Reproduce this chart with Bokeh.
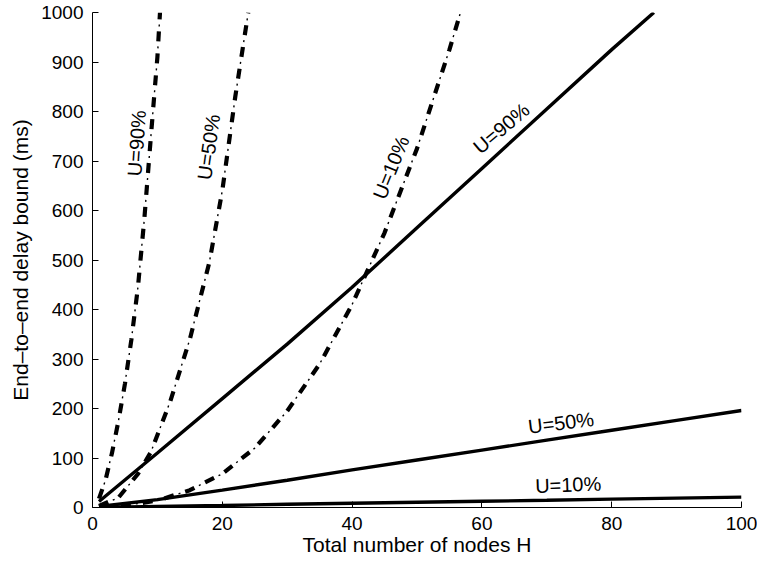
from bokeh.plotting import figure
from bokeh.models import Range1d, FixedTicker, Label
from bokeh.embed import file_html
from bokeh.resources import INLINE

# ---- data ----
x_ticks = [0, 20, 40, 60, 80, 100]
y_ticks = [0, 100, 200, 300, 400, 500, 600, 700, 800, 900, 1000]

# solid lines
h_solid90 = [1, 10, 20, 30, 40, 50, 60, 70, 80, 86.5]
d_solid90 = [12, 110, 220, 330, 445, 565, 685, 805, 925, 1000]
h_solid50 = [1, 10, 20, 30, 40, 50, 60, 70, 80, 90, 100]
d_solid50 = [2, 16, 35, 55, 76, 96, 116, 136, 156, 176, 196]
h_solid10 = [1, 10, 20, 30, 40, 50, 60, 70, 80, 90, 100]
d_solid10 = [0.2, 2, 4, 6.5, 8.5, 10.5, 12.5, 14.5, 17, 19, 21]

# dash-dot curves
h_dd90 = [1, 2, 3, 4, 5, 6, 7, 8, 9, 10, 10.4]
d_dd90 = [18, 55, 110, 175, 250, 340, 445, 585, 750, 910, 1000]
h_dd50 = [1, 4, 7, 9, 12, 15, 18, 20, 22, 24]
d_dd50 = [3, 20, 68, 112, 215, 340, 495, 640, 830, 1000]
h_dd10 = [1, 5, 10, 15, 20, 25, 30, 35, 40, 45, 50, 55, 56.7]
d_dd10 = [1, 4, 14, 35, 68, 120, 195, 290, 410, 555, 725, 925, 1000]

labels_text = ["U=90%", "U=50%", "U=10%", "U=90%", "U=50%", "U=10%"]
labels_x = [6.8, 17.9, 46.0, 63.0, 72.2, 73.3]
labels_y = [736, 728, 687, 766, 171, 46]
labels_angle = [86, 82, 68, 40, 7, 2]

FONT = "Liberation Sans"

p = figure(width=757, height=558, output_backend="svg", toolbar_location=None,
           x_range=Range1d(0, 100), y_range=Range1d(0, 1000),
           min_border_left=92, min_border_right=16, min_border_top=12, min_border_bottom=50)
p.outline_line_color = None
p.grid.visible = False
p.background_fill_color = "white"
p.border_fill_color = "white"

for ax in (p.xaxis[0], p.yaxis[0]):
    ax.major_tick_in = 6
    ax.major_tick_out = 0
    ax.minor_tick_in = 0
    ax.minor_tick_out = 0
    ax.axis_line_color = "black"
    ax.major_tick_line_color = "black"
    ax.major_label_text_font = FONT
    ax.major_label_text_font_size = "19px"
    ax.major_label_text_color = "black"
    ax.axis_label_text_font = FONT
    ax.axis_label_text_font_size = "21px"
    ax.axis_label_text_font_style = "normal"
    ax.axis_label_text_color = "black"
    ax.major_label_standoff = 9

p.xaxis[0].ticker = FixedTicker(ticks=x_ticks)
p.yaxis[0].ticker = FixedTicker(ticks=y_ticks)
p.xaxis[0].axis_label = "Total number of nodes H"
p.yaxis[0].axis_label = "End\u2013to\u2013end delay bound (ms)"
p.xaxis[0].axis_label_standoff = 0
p.yaxis[0].axis_label_standoff = 6

# solid lines
for hx, dy in ((h_solid90, d_solid90), (h_solid50, d_solid50), (h_solid10, d_solid10)):
    p.line(hx, dy, line_color="black", line_width=3.4)

# dash-dot curves: thick dashes plus thin dots
for hx, dy in ((h_dd90, d_dd90), (h_dd50, d_dd50), (h_dd10, d_dd10)):
    p.line(hx, dy, line_color="black", line_width=4.2, line_dash="10 12")
    p.line(hx, dy, line_color="black", line_width=1.4, line_dash="2 20", line_dash_offset=7)

for t, x, y, a in zip(labels_text, labels_x, labels_y, labels_angle):
    p.add_layout(Label(x=x, y=y, text=t, angle=a, angle_units="deg",
                       text_align="center", text_baseline="middle",
                       text_font=FONT, text_font_size="20px", text_color="black"))

open("out.html", "w").write(file_html(p, INLINE))
